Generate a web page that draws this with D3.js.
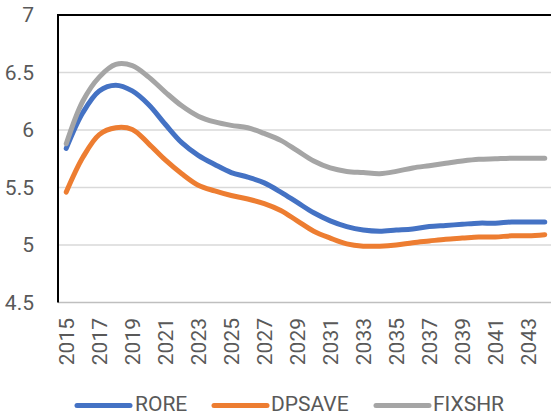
<!DOCTYPE html>
<html>
<head>
<meta charset="utf-8">
<script src="https://cdn.jsdelivr.net/npm/d3@7"></script>
<style>
  html, body { margin: 0; padding: 0; background: #fff; }
  svg { display: block; }
  text { font-family: Roboto, "Liberation Sans", sans-serif; fill: #595959; }
</style>
</head>
<body>
<svg id="chart" width="551" height="416"></svg>
<script>
const years = d3.range(2015, 2045);
const yTicks = [4.5, 5, 5.5, 6, 6.5, 7];
const xTickYears = d3.range(2015, 2045, 2);

const rore = [5.84, 6.15, 6.34, 6.39, 6.34, 6.22, 6.05, 5.89, 5.78, 5.70,
              5.63, 5.59, 5.54, 5.46, 5.37, 5.28, 5.21, 5.16, 5.13, 5.12,
              5.13, 5.14, 5.16, 5.17, 5.18, 5.19, 5.19, 5.20, 5.20, 5.20];
const dpsave = [5.46, 5.76, 5.96, 6.02, 6.005, 5.88, 5.74, 5.62, 5.52, 5.47,
                5.43, 5.40, 5.36, 5.30, 5.21, 5.12, 5.06, 5.01, 4.99, 4.99,
                5.00, 5.02, 5.035, 5.05, 5.06, 5.07, 5.07, 5.08, 5.08, 5.09];
const fixshr = [5.88, 6.25, 6.46, 6.57, 6.56, 6.46, 6.33, 6.21, 6.12, 6.07,
                6.04, 6.02, 5.97, 5.91, 5.82, 5.73, 5.67, 5.64, 5.63, 5.62,
                5.64, 5.67, 5.69, 5.71, 5.73, 5.745, 5.75, 5.755, 5.755, 5.755];

const seriesNames = ["RORE", "DPSAVE", "FIXSHR"];
const seriesColors = ["#4472C4", "#ED7D31", "#A5A5A5"];
const seriesValues = [rore, dpsave, fixshr];

const svg = d3.select("#chart");
const plot = { left: 58, right: 553, top: 15, bottom: 302.5 };

const x = d3.scalePoint()
  .domain(years)
  .range([plot.left, plot.right])
  .padding(0.5);

const y = d3.scaleLinear()
  .domain([4.5, 7])
  .range([plot.bottom, plot.top]);

// horizontal gridlines
svg.append("g")
  .selectAll("line")
  .data(yTicks.filter(t => t > 4.5 && t < 7))
  .join("line")
  .attr("x1", plot.left).attr("x2", plot.right)
  .attr("y1", d => y(d)).attr("y2", d => y(d))
  .attr("stroke", "#D9D9D9")
  .attr("stroke-width", 1.5);

// category axis along the bottom
const xAxis = svg.append("g")
  .attr("transform", `translate(0,${plot.bottom})`)
  .call(d3.axisBottom(x).tickValues(xTickYears).tickSize(0).tickPadding(0));
xAxis.select(".domain")
  .attr("d", `M${plot.left},0H${plot.right}`)
  .attr("stroke", "#BFBFBF")
  .attr("stroke-width", 1.5);
xAxis.selectAll("text")
  .attr("transform", "rotate(-90)")
  .attr("x", -15.5)
  .attr("y", 0)
  .attr("dy", "0.36em")
  .attr("text-anchor", "end")
  .style("font-size", "21px")
  .style("fill", "#595959");

// value axis
const yAxis = svg.append("g")
  .attr("transform", `translate(${plot.left},0)`)
  .call(d3.axisLeft(y).tickValues(yTicks).tickFormat(d3.format("")).tickSize(0).tickPadding(24));
yAxis.select(".domain").remove();
yAxis.selectAll("text")
  .style("font-size", "21px")
  .style("fill", "#595959");

// plot area frame (left and top edges)
svg.append("path")
  .attr("d", `M${plot.left},${plot.bottom}V${plot.top}H${plot.right}`)
  .attr("fill", "none")
  .attr("stroke", "#000")
  .attr("stroke-width", 2);

// series lines
const line = d3.line()
  .x((d, i) => x(years[i]))
  .y(d => y(d))
  .curve(d3.curveCatmullRom.alpha(0.5));

svg.append("g")
  .selectAll("path")
  .data(seriesValues)
  .join("path")
  .attr("d", d => line(d))
  .attr("fill", "none")
  .attr("stroke", (d, i) => seriesColors[i])
  .attr("stroke-width", 5)
  .attr("stroke-linecap", "round")
  .attr("stroke-linejoin", "round");

// legend
const legendItems = [
  { lx: 77, tx: 135 },
  { lx: 214, tx: 271 },
  { lx: 376, tx: 433 }
];
const legend = svg.append("g");
legendItems.forEach((p, i) => {
  legend.append("line")
    .attr("x1", p.lx).attr("x2", p.lx + 53)
    .attr("y1", 405.5).attr("y2", 405.5)
    .attr("stroke", seriesColors[i])
    .attr("stroke-width", 5)
    .attr("stroke-linecap", "round");
  legend.append("text")
    .attr("x", p.tx)
    .attr("y", 403)
    .attr("dy", "0.36em")
    .style("font-size", "21px")
    .text(seriesNames[i]);
});
</script>
</body>
</html>
